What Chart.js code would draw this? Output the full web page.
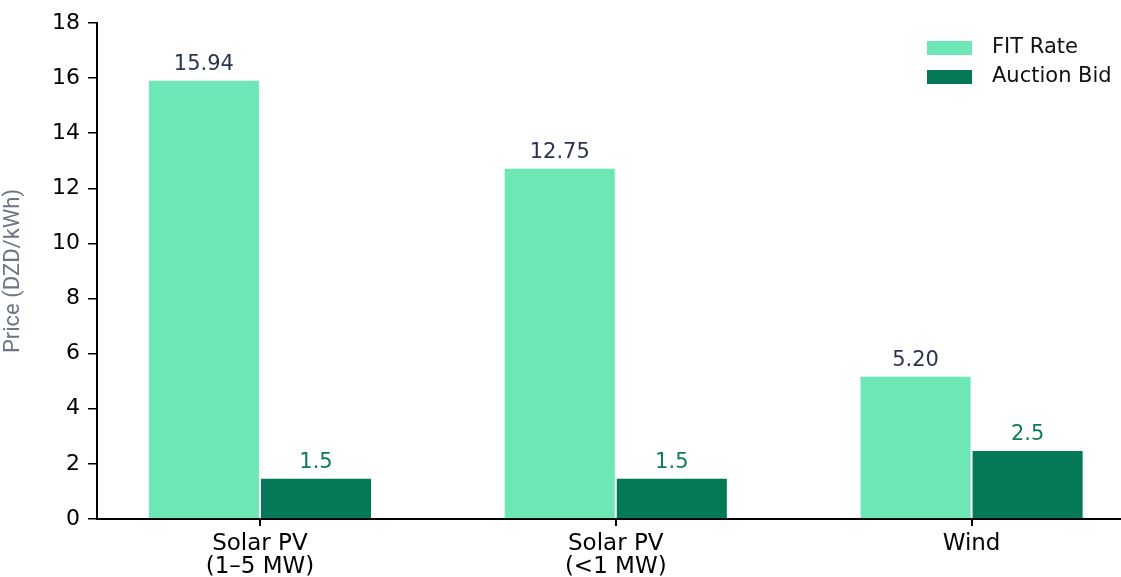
<!DOCTYPE html>
<html lang="en">
<head>
    <meta charset="UTF-8">
    <title>FIT Rate vs Auction Bid</title>
    <script src="https://cdn.jsdelivr.net/npm/chart.js@4.4.1/dist/chart.umd.min.js"></script>
    <style>
        * { margin: 0; padding: 0; box-sizing: border-box; }
        body { background: #fff; }
        .chart-box { width: 1121px; height: 577px; position: relative; }
    </style>
</head>
<body>
    <div class="chart-box">
        <canvas id="priceChart"></canvas>
    </div>

    <script>
        // Data
        const categories = [['Solar PV', '(1\u20135 MW)'], ['Solar PV', '(<1 MW)'], 'Wind'];
        const fitRate = [15.94, 12.75, 5.20];
        const auctionBid = [1.5, 1.5, 2.5];
        const yTicks = [0, 2, 4, 6, 8, 10, 12, 14, 16, 18];

        const fitColor = '#6ee7b7';
        const bidColor = '#047857';

        // Bar value labels above each bar
        const valueLabels = {
            id: 'valueLabels',
            afterDatasetsDraw(chart) {
                const ctx = chart.ctx;
                ctx.save();
                ctx.font = '21px "DejaVu Sans", sans-serif';
                ctx.textAlign = 'center';
                ctx.textBaseline = 'alphabetic';
                chart.data.datasets.forEach((ds, i) => {
                    const meta = chart.getDatasetMeta(i);
                    ctx.fillStyle = ds.labelColor;
                    meta.data.forEach((bar, j) => {
                        ctx.fillText(ds.data[j].y.toFixed(ds.decimals), bar.x, bar.y - 10);
                    });
                });
                ctx.restore();
            }
        };

        // Legend drawn inside the plot, top right
        const cornerLegend = {
            id: 'cornerLegend',
            afterDraw(chart) {
                const ctx = chart.ctx;
                ctx.save();
                ctx.font = '21px "DejaVu Sans", sans-serif';
                ctx.textBaseline = 'middle';
                chart.data.datasets.forEach((ds, i) => {
                    const y = 48 + i * 29;
                    ctx.fillStyle = ds.backgroundColor;
                    ctx.fillRect(927, y - 7, 45, 14);
                    ctx.fillStyle = '#111';
                    ctx.fillText(ds.label, 992, y);
                });
                ctx.restore();
            }
        };

        new Chart(document.getElementById('priceChart'), {
            type: 'bar',
            data: {
                datasets: [{
                    label: 'FIT Rate',
                    data: fitRate.map((v, i) => ({ x: i, y: v })),
                    backgroundColor: fitColor,
                    borderColor: 'rgba(255,255,255,0.9)',
                    borderWidth: 1,
                    labelColor: '#2a3352',
                    decimals: 2
                }, {
                    label: 'Auction Bid',
                    data: auctionBid.map((v, i) => ({ x: i, y: v })),
                    backgroundColor: bidColor,
                    borderColor: 'rgba(255,255,255,0.9)',
                    borderWidth: 1,
                    labelColor: '#0e7c5b',
                    decimals: 1
                }]
            },
            options: {
                responsive: true,
                maintainAspectRatio: false,
                animation: false,
                categoryPercentage: 0.63,
                barPercentage: 1,
                layout: { padding: { top: 23, right: 0, left: 0, bottom: 0 } },
                plugins: {
                    legend: { display: false },
                    tooltip: { enabled: false }
                },
                scales: {
                    x: {
                        type: 'linear',
                        min: -0.458,
                        max: 2.42,
                        offset: false,
                        afterFit: s => { s.height = 58; },
                        ticks: {
                            stepSize: 1,
                            includeBounds: false,
                            autoSkip: false,
                            maxRotation: 0,
                            padding: 7,
                            color: '#000',
                            font: { family: '"DejaVu Sans", sans-serif', size: 23, lineHeight: 1.0 },
                            callback: v => Number.isInteger(v) ? categories[v] : ''
                        },
                        grid: {
                            offset: false,
                            drawOnChartArea: false,
                            drawTicks: true,
                            tickLength: 7,
                            color: '#000',
                            lineWidth: 2
                        },
                        border: { color: '#000', width: 2 }
                    },
                    y: {
                        min: 0,
                        max: 18,
                        afterFit: s => { s.width = 97; },
                        afterBuildTicks: s => { s.ticks = yTicks.map(v => ({ value: v })); },
                        ticks: {
                            padding: 8,
                            color: '#000',
                            font: { family: '"DejaVu Sans", sans-serif', size: 22 }
                        },
                        grid: {
                            drawOnChartArea: false,
                            drawTicks: true,
                            tickLength: 9,
                            color: '#000',
                            lineWidth: 1.5
                        },
                        border: { color: '#000', width: 2 },
                        title: {
                            display: true,
                            text: 'Price (DZD/kWh)',
                            color: '#6b7685',
                            font: { family: 'Roboto, sans-serif', size: 22 },
                            padding: { top: 0, bottom: 0 }
                        }
                    }
                }
            },
            plugins: [valueLabels, cornerLegend]
        });
    </script>
</body>
</html>
